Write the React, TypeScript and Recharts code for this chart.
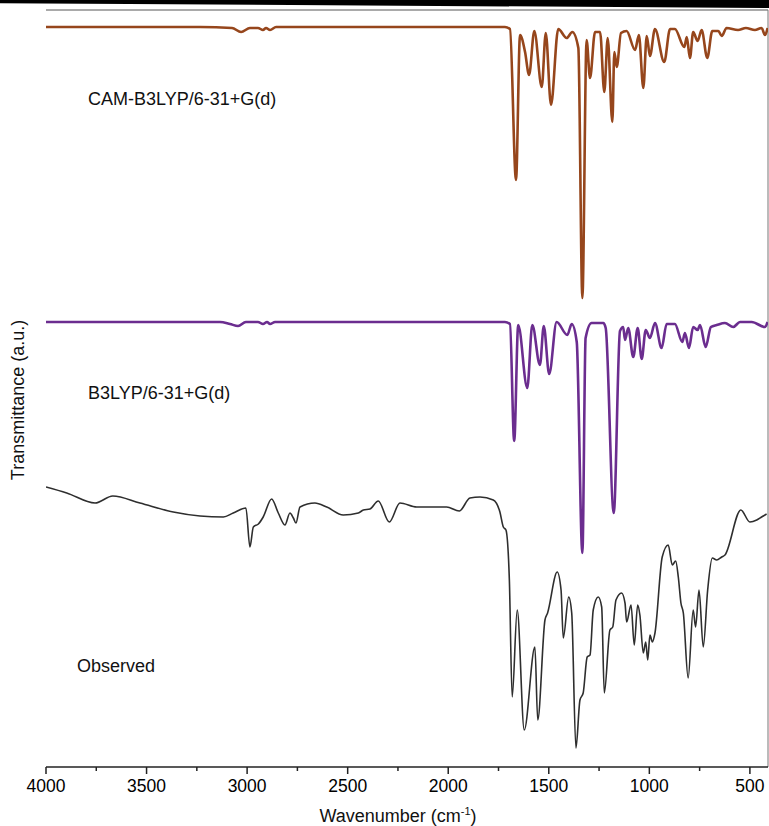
import React from 'react';
import { LineChart, Line, XAxis, YAxis, ReferenceLine } from 'recharts';

// x axis: wavenumber, drawn high -> low
const majorTicks = [4000, 3500, 3000, 2500, 2000, 1500, 1000, 500];
const minorTicks = [3750, 3250, 2750, 2250, 1750, 1250, 750];

// CAM-B3LYP/6-31+G(d) computed spectrum (a.u., offset upward)
const camWavenumber = [4000, 3234, 3075, 3030, 2986, 2946, 2921, 2906, 2886, 2856, 1718, 1693, 1663, 1643, 1618, 1598, 1572, 1535, 1515, 1489, 1453, 1411, 1383, 1353, 1333, 1312, 1295, 1270, 1245, 1224, 1207, 1184, 1174, 1162, 1141, 1113, 1071, 1052, 1030, 1013, 997, 972, 926, 897, 873, 826, 814, 798, 782, 760, 740, 712, 687, 657, 640, 616, 559, 520, 475, 442, 425, 412];
const camSignal = [740, 740, 739, 735, 739, 739, 737, 739, 737, 740, 740, 738, 587, 732, 715, 692, 736, 680, 734, 662, 738, 729, 735, 719, 469, 727, 689, 735, 735, 675, 729, 645, 715, 700, 734, 736, 717, 732, 679, 731, 711, 738, 705, 738, 738, 720, 730, 709, 735, 726, 737, 709, 736, 736, 731, 739, 737, 739, 737, 739, 732, 739];

// B3LYP/6-31+G(d) computed spectrum
const b3lypWavenumber = [4000, 3135, 3085, 3045, 3006, 2946, 2921, 2901, 2886, 2861, 1718, 1693, 1672, 1652, 1607, 1582, 1544, 1525, 1498, 1461, 1408, 1386, 1361, 1333, 1317, 1287, 1229, 1217, 1177, 1146, 1130, 1121, 1105, 1080, 1058, 1038, 1018, 997, 972, 939, 914, 873, 836, 823, 803, 782, 760, 748, 720, 694, 665, 624, 583, 549, 491, 425, 412];
const b3lypSignal = [445, 445, 443, 441, 445, 445, 443, 445, 443, 445, 445, 443, 326, 442, 379, 442, 402, 441, 393, 445, 432, 443, 425, 214, 429, 444, 444, 439, 254, 436, 440, 427, 439, 410, 439, 408, 437, 429, 444, 419, 443, 443, 425, 434, 419, 440, 437, 442, 420, 440, 442, 444, 440, 445, 445, 440, 445];

// observed FT-IR
const obsWavenumber = [4000, 3897, 3756, 3668, 3533, 3367, 3234, 3118, 3069, 3006, 2986, 2969, 2944, 2920, 2878, 2845, 2812, 2787, 2770, 2757, 2737, 2663, 2604, 2522, 2447, 2422, 2389, 2348, 2293, 2240, 2157, 2074, 2008, 1945, 1892, 1842, 1776, 1743, 1726, 1713, 1696, 1682, 1657, 1622, 1569, 1555, 1519, 1506, 1458, 1439, 1428, 1401, 1386, 1365, 1345, 1329, 1309, 1295, 1279, 1254, 1237, 1224, 1196, 1182, 1166, 1138, 1121, 1113, 1091, 1075, 1058, 1047, 1030, 1018, 1008, 997, 985, 972, 936, 906, 886, 869, 856, 843, 831, 807, 782, 770, 753, 732, 710, 687, 665, 640, 624, 545, 500, 466, 442, 417];
const obsSignal = [280, 274, 264, 271, 264, 255, 251, 250, 254, 259, 220, 240, 243, 250, 268, 254, 242, 254, 249, 244, 260, 264, 260, 252, 254, 257, 258, 266, 245, 264, 260, 260, 260, 256, 269, 270, 267, 255, 240, 237, 187, 70, 157, 37, 120, 47, 147, 154, 195, 177, 129, 170, 154, 19, 67, 74, 110, 112, 157, 170, 160, 74, 137, 140, 167, 174, 164, 145, 162, 122, 162, 152, 114, 125, 107, 132, 125, 134, 210, 222, 202, 206, 190, 164, 154, 89, 157, 140, 177, 120, 177, 209, 207, 210, 212, 257, 245, 247, 250, 253];

const toSeries = (wn: number[], t: number[]) => wn.map((w, i) => ({ wn: w, t: t[i] }));

const camData = toSeries(camWavenumber, camSignal);
const b3lypData = toSeries(b3lypWavenumber, b3lypSignal);
const obsData = toSeries(obsWavenumber, obsSignal);

const FONT = '"Liberation Sans", Arial, sans-serif';
const X_DOMAIN = [410, 4000];
const Y_DOMAIN = [0, 757];

const WaveTick = (props: any) => {
  const { x, y, payload } = props;
  const major = payload.value % 500 === 0;
  return (
    <g>
      <line x1={x} x2={x} y1={y} y2={y + (major ? 7 : 4)} stroke="#222" strokeWidth={1.5} />
      {major && (
        <text x={x} y={y + 25} textAnchor="middle" fontSize={17.5} fill="#000" fontFamily={FONT}>
          {payload.value}
        </text>
      )}
    </g>
  );
};

const labelStyle: React.CSSProperties = {
  position: 'absolute',
  fontFamily: FONT,
  fontSize: 18,
  lineHeight: '18px',
  color: '#111',
  whiteSpace: 'nowrap',
};

export default function App() {
  return (
    <div style={{ position: 'absolute', left: 0, top: 0, width: 769, height: 826, background: '#fff' }}>
      <div style={{ position: 'absolute', left: 0, top: 0, width: 769, height: 8, background: '#000', clipPath: 'polygon(0 0, 100% 0, 100% 100%, 0 40%)' }} />
      <LineChart
        width={769}
        height={826}
        margin={{ top: 10, right: 1, bottom: 19, left: 46 }}
      >
        <XAxis
          type="number"
          dataKey="wn"
          domain={X_DOMAIN}
          reversed
          allowDataOverflow
          ticks={[...majorTicks, ...minorTicks].sort((a, b) => b - a)}
          interval={0}
          height={40}
          tickSize={0}
          tickMargin={0}
          tickLine={false}
          tick={<WaveTick />}
          axisLine={{ stroke: '#222', strokeWidth: 1.5 }}
        />
        <YAxis
          type="number"
          domain={Y_DOMAIN}
          width={0}
          tick={false}
          tickLine={false}
          axisLine={{ stroke: '#222', strokeWidth: 1.5 }}
        />
        <ReferenceLine y={757} stroke="#555" strokeWidth={1} />
        <ReferenceLine x={410} stroke="#777" strokeWidth={1} />
        <Line data={camData} dataKey="t" type="monotone" stroke="#96461c" strokeWidth={2.6} dot={false} isAnimationActive={false} />
        <Line data={b3lypData} dataKey="t" type="monotone" stroke="#6b2d8f" strokeWidth={2.6} dot={false} isAnimationActive={false} />
        <Line data={obsData} dataKey="t" type="monotone" stroke="#2e2e2e" strokeWidth={1.6} dot={false} isAnimationActive={false} />
      </LineChart>

      <div style={{ ...labelStyle, left: 88, top: 90 }}>CAM-B3LYP/6-31+G(d)</div>
      <div style={{ ...labelStyle, left: 88, top: 384 }}>B3LYP/6-31+G(d)</div>
      <div style={{ ...labelStyle, left: 77, top: 657 }}>Observed</div>
      <div style={{ ...labelStyle, left: 18, top: 400, transform: 'translate(-50%, -50%) rotate(-90deg)' }}>
        Transmittance (a.u.)
      </div>
      <div style={{ ...labelStyle, left: 398, top: 816, transform: 'translate(-50%, -50%)' }}>
        Wavenumber (cm<sup style={{ fontSize: 11, lineHeight: 0 }}>-1</sup>)
      </div>
    </div>
  );
}
